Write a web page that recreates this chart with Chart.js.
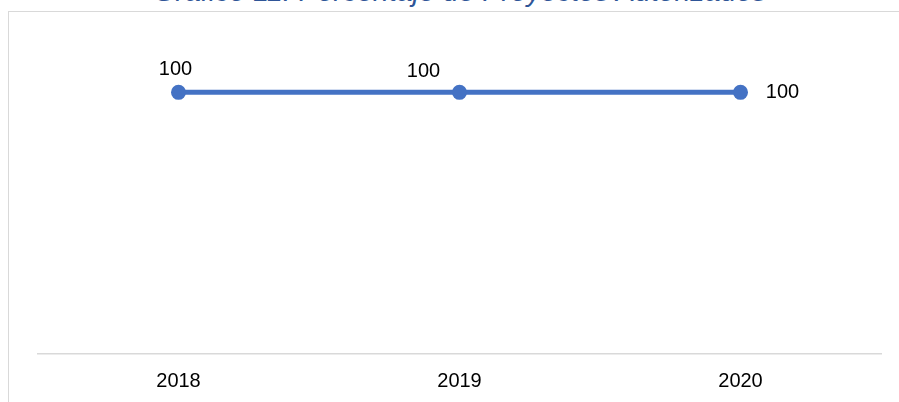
<!DOCTYPE html>
<html>
<head>
<meta charset="utf-8">
<script src="https://cdn.jsdelivr.net/npm/chart.js@4.4.1/dist/chart.umd.min.js"></script>
<style>
  html, body { margin: 0; padding: 0; background: #fff; overflow: hidden; }
  #wrap { position: relative; width: 899px; height: 402px; overflow: hidden; }
  #frame { position: absolute; left: 8px; top: 11px; width: 1000px; height: 500px; border: 1px solid #d9d9d9; box-sizing: border-box; }
  #title { position: absolute; left: 0; width: 920px; top: -25px; text-align: center; font-family: "Liberation Sans", Arial, sans-serif; font-style: italic; font-size: 28.5px; color: #2f5597; white-space: nowrap; }
  canvas { position: absolute; left: 0; top: 0; }
</style>
</head>
<body>
<div id="wrap">
  <div id="frame"></div>
  <div id="title">Gráfico 11. Porcentaje de Proyectos Autorizados</div>
  <canvas id="myChart" width="899" height="420"></canvas>
</div>
<script>
// --- Datos del gráfico ---
const years = ['2018', '2019', '2020'];
const autorizados = [100, 100, 100];
const yAxisMin = 0;
const yAxisMax = 120;

// Etiquetas de valor (posición de cada etiqueta respecto al punto)
const valueLabels = {
    id: 'valueLabels',
    afterDatasetsDraw(chart) {
        const ctx = chart.ctx;
        const offsets = [[-3, -23], [-36, -21], [42, 0]];
        const meta = chart.getDatasetMeta(0);
        ctx.save();
        ctx.font = '20px "Liberation Sans", Arial, sans-serif';
        ctx.fillStyle = '#000';
        ctx.textAlign = 'center';
        ctx.textBaseline = 'middle';
        meta.data.forEach((pt, i) => {
            const o = offsets[i] || [0, -20];
            ctx.fillText(String(chart.data.datasets[0].data[i]), pt.x + o[0], pt.y + o[1]);
        });
        ctx.restore();
    }
};

new Chart(document.getElementById('myChart'), {
    type: 'line',
    data: {
        labels: years,
        datasets: [{
            data: autorizados,
            borderColor: '#4472c4',
            backgroundColor: '#4472c4',
            borderWidth: 5,
            pointRadius: 7.5,
            pointBorderWidth: 0,
            pointBackgroundColor: '#4472c4',
            tension: 0,
            clip: false
        }]
    },
    options: {
        responsive: false,
        animation: false,
        layout: { padding: { left: 38, right: 18, top: 40, bottom: 20 } },
        scales: {
            x: {
                offset: true,
                grid: { display: false },
                border: { display: true, color: '#d9d9d9', width: 1.5 },
                ticks: {
                    color: '#000',
                    padding: 7,
                    font: { family: '"Liberation Sans", Arial, sans-serif', size: 20 }
                }
            },
            y: {
                display: false,
                min: yAxisMin,
                max: yAxisMax
            }
        },
        plugins: {
            legend: { display: false },
            tooltip: { enabled: false }
        }
    },
    plugins: [valueLabels]
});
</script>
</body>
</html>
